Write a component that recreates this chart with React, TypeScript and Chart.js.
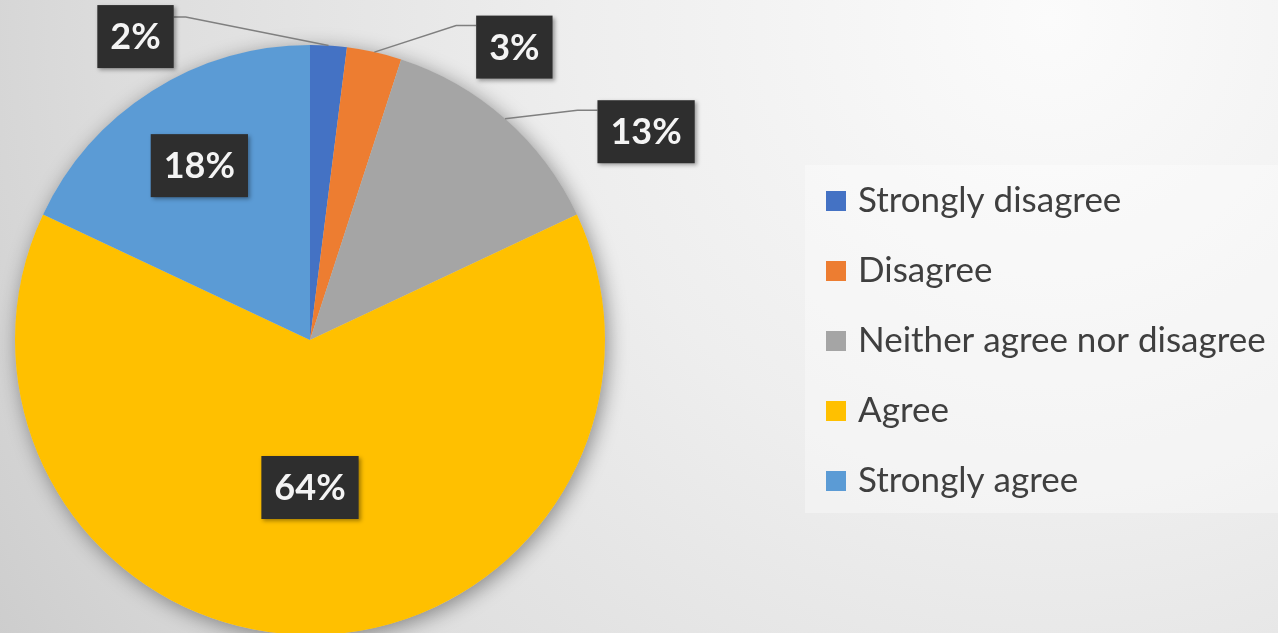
import React, { useEffect, useRef } from "react";
import { Chart, registerables } from "chart.js";

Chart.register(...registerables);

const categories = [
  "Strongly disagree",
  "Disagree",
  "Neither agree nor disagree",
  "Agree",
  "Strongly agree",
];
const percentValues = [2, 3, 13, 64, 18];
const sliceColors = ["#4472C4", "#ED7D31", "#A5A5A5", "#FFC000", "#5B9BD5"];

// label placement: outside labels offset from the slice edge midpoint, inside labels at a radius fraction
const labelPlacement = [
  { mode: "out", dx: -193, dy: -9 },
  { mode: "out", dx: 140, dy: -5 },
  { mode: "out", dx: 141, dy: 13 },
  { mode: "in", f: 0.5 },
  { mode: "in", f: 0.7 },
];

const W = 1278;
const H = 640;

const backgroundPlugin = {
  id: "bgPlugin",
  beforeDraw(chart: any) {
    const ctx = chart.ctx;
    ctx.save();
    const g = ctx.createRadialGradient(1050, 20, 0, 1050, 20, 1350);
    g.addColorStop(0, "#fbfbfb");
    g.addColorStop(0.35, "#eeeeee");
    g.addColorStop(0.7, "#dcdcdc");
    g.addColorStop(1, "#c6c6c6");
    ctx.fillStyle = g;
    ctx.fillRect(0, 0, chart.width, chart.height);
    ctx.restore();
  },
  beforeDatasetsDraw(chart: any) {
    const meta = chart.getDatasetMeta(0);
    const arc = meta.data[0];
    if (!arc) return;
    const ctx = chart.ctx;
    ctx.save();
    ctx.shadowColor = "rgba(0,0,0,0.4)";
    ctx.shadowBlur = 20;
    ctx.shadowOffsetX = 3;
    ctx.shadowOffsetY = 4;
    ctx.fillStyle = "#cccccc";
    ctx.beginPath();
    ctx.arc(arc.x, arc.y, arc.outerRadius, 0, Math.PI * 2);
    ctx.fill();
    ctx.restore();
  },
};

const labelsPlugin = {
  id: "labelsPlugin",
  afterDatasetsDraw(chart: any) {
    const ctx = chart.ctx;
    const meta = chart.getDatasetMeta(0);
    const vals = chart.data.datasets[0].data as number[];
    ctx.save();
    ctx.font = "bold 36px Lato";
    meta.data.forEach((arc: any, i: number) => {
      const p = labelPlacement[i];
      const mid = (arc.startAngle + arc.endAngle) / 2;
      const r = arc.outerRadius;
      const ex = arc.x + Math.cos(mid) * r;
      const ey = arc.y + Math.sin(mid) * r;
      let cx: number, cy: number;
      if (p.mode === "out") {
        cx = ex + (p.dx as number);
        cy = ey + (p.dy as number);
      } else {
        cx = arc.x + Math.cos(mid) * r * (p.f as number);
        cy = arc.y + Math.sin(mid) * r * (p.f as number);
      }
      const text = vals[i] + "%";
      const tw = ctx.measureText(text).width;
      const bw = tw + 26;
      const bh = 63;
      const bx = cx - bw / 2;
      const by = cy - bh / 2;
      if (p.mode === "out") {
        ctx.save();
        ctx.strokeStyle = "#7f7f7f";
        ctx.lineWidth = 1.5;
        ctx.beginPath();
        ctx.moveTo(ex, ey);
        if (cx < ex) {
          ctx.lineTo(bx + bw + 12, by + 12);
          ctx.lineTo(bx + bw, by + 12);
        } else {
          ctx.lineTo(bx - 20, by + 10);
          ctx.lineTo(bx, by + 10);
        }
        ctx.stroke();
        ctx.restore();
      }
      ctx.save();
      ctx.shadowColor = "rgba(0,0,0,0.35)";
      ctx.shadowBlur = 4;
      ctx.shadowOffsetX = 2;
      ctx.shadowOffsetY = 2;
      ctx.fillStyle = "#2e2e2e";
      ctx.fillRect(bx, by, bw, bh);
      ctx.restore();
      ctx.fillStyle = "#f4f4f4";
      ctx.textAlign = "center";
      ctx.textBaseline = "middle";
      ctx.fillText(text, cx, cy + 1);
    });
    ctx.restore();
  },
};

const legendPlugin = {
  id: "customLegend",
  afterDraw(chart: any) {
    const ctx = chart.ctx;
    ctx.save();
    ctx.fillStyle = "rgba(255,255,255,0.35)";
    ctx.fillRect(805, 165, W - 805, 348);
    const labels = chart.data.labels as string[];
    const colors = chart.data.datasets[0].backgroundColor as string[];
    ctx.font = "35px Lato";
    ctx.textBaseline = "middle";
    ctx.textAlign = "left";
    labels.forEach((lab, i) => {
      const y = 201 + i * 70;
      ctx.fillStyle = colors[i];
      ctx.fillRect(826, y - 10, 20, 20);
      ctx.fillStyle = "#3f3f3f";
      ctx.fillText(lab, 858, y);
    });
    ctx.restore();
  },
};

export default function App() {
  const ref = useRef<HTMLCanvasElement | null>(null);
  useEffect(() => {
    document.body.style.margin = "0";
    const canvas = ref.current;
    if (!canvas) return;
    const chart = new Chart(canvas, {
      type: "pie",
      data: {
        labels: categories,
        datasets: [
          {
            data: percentValues,
            backgroundColor: sliceColors,
            borderWidth: 0,
          },
        ],
      },
      options: {
        animation: false,
        responsive: false,
        devicePixelRatio: 1,
        layout: { padding: { left: 15, top: 45, right: W - 605, bottom: H - 635 } },
        plugins: {
          legend: { display: false },
          tooltip: { enabled: false },
        },
      },
      plugins: [backgroundPlugin, labelsPlugin, legendPlugin],
    });
    return () => chart.destroy();
  }, []);
  return (
    <div style={{ position: "fixed", left: 0, top: 0, width: W, height: 633, overflow: "hidden" }}>
      <canvas ref={ref} width={W} height={H} style={{ display: "block" }} />
    </div>
  );
}
